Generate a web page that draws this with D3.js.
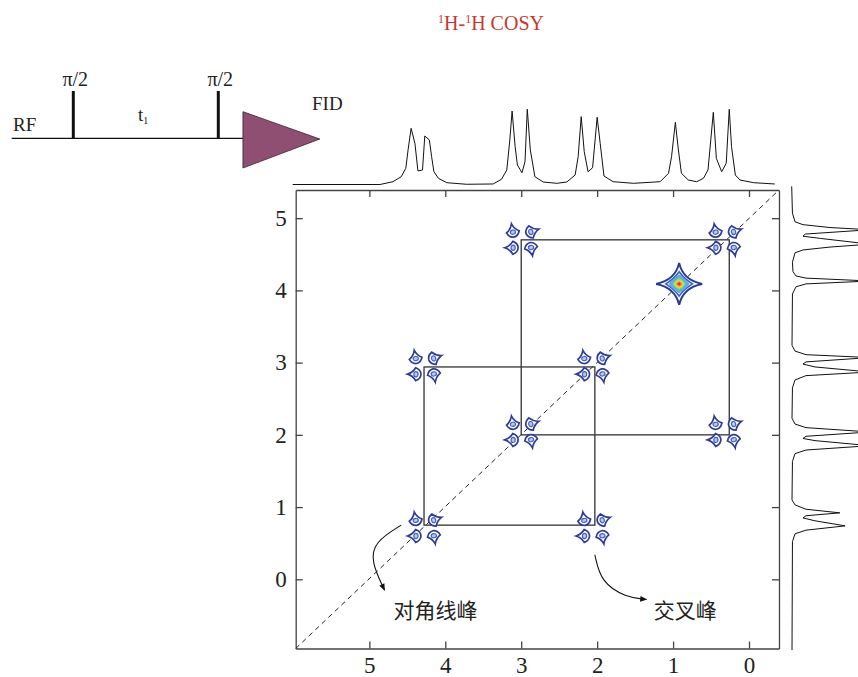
<!DOCTYPE html>
<html>
<head>
<meta charset="utf-8">
<script src="https://cdn.jsdelivr.net/npm/d3@7"></script>
<style>
body { margin: 0; background: #fff; }
svg text { font-family: "Liberation Serif", "Times New Roman", serif; fill: #222; }
</style>
</head>
<body>
<svg id="chart" width="858" height="677"></svg>
<script>
// axis ticks (ppm)
var xTicks = [5, 4, 3, 2, 1, 0];
var yTicks = [0, 1, 2, 3, 4, 5];

// centres of the 2x2 multiplet peaks (ppm)
var peakX = [2.99, 0.32, 4.27, 2.05, 2.99, 0.32, 4.27, 2.05];
var peakY = [4.70, 4.70, 2.95, 2.95, 2.04, 2.04, 0.71, 0.71];
var splitX = 0.12, splitY = 0.11;
var diagPeak = [0.92, 4.09];

// connecting boxes [x1, x2, y1, y2] (ppm)
var boxes = [[3.0, 0.26, 2.0, 4.7], [4.28, 2.03, 0.75, 2.94]];

// 1D spectrum on top: [ppm, intensity %]
var topTrace = [[6.01,0],[4.86,0],[4.69,3.7],[4.58,10.4],[4.52,21.5],[4.49,45.9],[4.45,74.7],[4.40,54.8],
  [4.36,18],[4.30,19.3],[4.27,64.5],[4.21,59.2],[4.18,37],[4.15,17],[4.09,8.2],[3.98,2.4],[3.72,0.3],
  [3.37,0.7],[3.26,6.9],[3.19,19.3],[3.15,59.2],[3.12,97.7],[3.08,50.3],[3.05,25.9],[2.99,15.7],[2.95,30.3],
  [2.92,100],[2.88,45.9],[2.82,10.4],[2.71,3.3],[2.53,1.6],[2.40,3.3],[2.29,12.6],[2.25,37],[2.21,90.2],
  [2.17,43.6],[2.12,17],[2.06,22.3],[2.00,89.4],[1.96,54.8],[1.91,11.3],[1.79,3.7],[1.52,1.6],[1.17,3.7],
  [1.06,14.9],[1.02,37],[0.97,82.7],[0.93,45.9],[0.89,14.9],[0.80,6],[0.69,3.7],[0.60,8.2],[0.54,19.3],
  [0.47,96],[0.43,34.8],[0.36,17],[0.30,28.2],[0.26,100],[0.23,50.3],[0.18,12.6],[0.12,6],[-0.06,2.4],[-0.34,0.7]];

// 1D spectrum on the right: [ppm, intensity %]
var rightTrace = [[5.44,0],[5.07,1],[4.95,4.4],[4.91,15],[4.87,51],[4.84,104],[4.78,18],[4.75,15],[4.72,38],
  [4.64,104],[4.60,51],[4.56,15],[4.52,4.4],[4.39,1],[4.26,1.7],[4.20,5.7],[4.17,19],[4.13,104],[4.09,19],
  [4.05,5.7],[3.95,1],[3.24,0.4],[3.16,4.4],[3.11,19],[3.07,104],[3.01,19],[2.98,15],[2.94,31],[2.87,104],
  [2.82,19],[2.76,4.4],[2.65,1],[2.23,0.4],[2.15,4.4],[2.10,19],[2.04,104],[1.98,19],[1.95,15],[1.92,31],
  [1.85,104],[1.79,19],[1.74,4.4],[1.63,1],[1.10,0.4],[1.03,4.4],[0.97,19],[0.92,64],[0.88,19],[0.85,15],
  [0.81,31],[0.74,71],[0.68,19],[0.63,4.4],[0.52,1],[-0.98,0.4]];

// annotation arrows (ppm) and labels
var arrowDiag = [[4.58,0.75],[4.93,0.52],[4.98,0.25],[4.80,-0.15]];
var arrowCross = [[2.03,0.34],[1.95,-0.04],[1.62,-0.25],[1.35,-0.28]];
var labels = [{text: "对角线峰", x: 4.13, y: -0.54}, {text: "交叉峰", x: 0.84, y: -0.54}];

var svg = d3.select("#chart");

var x = d3.scaleLinear().domain([5.97, -0.395]).range([295.7, 779]);
var y = d3.scaleLinear().domain([-0.958, 5.39]).range([648.5, 190]);
var topI = d3.scaleLinear().domain([0, 100]).range([184.5, 109.3]);
var rightI = d3.scaleLinear().domain([0, 100]).range([791.7, 866.9]);

// title
svg.append("text").attr("x", 491).attr("y", 30).attr("text-anchor", "middle")
  .style("font-size", "20px").style("fill", "#c8372d")
  .html('<tspan baseline-shift="super" font-size="12px">1</tspan>H-<tspan baseline-shift="super" font-size="12px">1</tspan>H COSY');

// pulse sequence
var seq = d3.scaleLinear().domain([0, 1]).range([73.3, 218.3]);
var rfY = 138.3;
svg.append("line").attr("x1", seq(-0.425)).attr("x2", seq(1.18)).attr("y1", rfY).attr("y2", rfY)
  .attr("stroke", "#111").attr("stroke-width", 1.3);
[0, 1].forEach(function (t) {
  svg.append("line").attr("x1", seq(t)).attr("x2", seq(t)).attr("y1", rfY).attr("y2", 91)
    .attr("stroke", "#111").attr("stroke-width", 3);
  svg.append("text").attr("x", seq(t) + 2).attr("y", 86).attr("text-anchor", "middle")
    .style("font-size", "20px").text("π/2");
});
svg.append("path")
  .attr("d", "M" + seq(1.17) + "," + 111.7 + "L" + seq(1.17) + "," + 168 + "L" + seq(1.7) + "," + 139 + "Z")
  .attr("fill", "#8e4f73").attr("stroke", "#3a2030").attr("stroke-width", 0.8);
svg.append("text").attr("x", 13).attr("y", 131).style("font-size", "19px").text("RF");
svg.append("text").attr("x", 138).attr("y", 121).style("font-size", "19px")
  .html('t<tspan font-size="10px" dy="3">1</tspan>');
svg.append("text").attr("x", 312).attr("y", 110).style("font-size", "19px").text("FID");

// 1D traces
svg.append("path").datum(topTrace)
  .attr("d", d3.line().x(function (d) { return x(d[0]); }).y(function (d) { return topI(d[1]); }))
  .attr("fill", "none").attr("stroke", "#111").attr("stroke-width", 1);
svg.append("path").datum(rightTrace)
  .attr("d", d3.line().y(function (d) { return y(d[0]); }).x(function (d) { return rightI(d[1]); }))
  .attr("fill", "none").attr("stroke", "#111").attr("stroke-width", 1);

// axes (ticks inward, box)
function styleAxis(g) {
  g.selectAll("path, line").attr("stroke", "#444").attr("stroke-width", 1.3);
  g.selectAll("text").style("font-size", "23px").style("font-family", "Liberation Serif").attr("fill", "#222");
}
svg.append("g").attr("transform", "translate(0," + y.range()[0] + ")")
  .call(d3.axisBottom(x).tickValues(xTicks).tickSize(-7).tickSizeOuter(0).tickPadding(8).tickFormat(d3.format("d")))
  .call(styleAxis);
svg.append("g").attr("transform", "translate(" + x.range()[0] + ",0)")
  .call(d3.axisLeft(y).tickValues(yTicks).tickSize(-7).tickSizeOuter(0).tickPadding(9).tickFormat(d3.format("d")))
  .call(styleAxis);
svg.append("g").attr("transform", "translate(0," + y.range()[1] + ")")
  .call(d3.axisTop(x).tickValues(xTicks).tickSize(-7).tickSizeOuter(0).tickFormat(""))
  .call(styleAxis);
svg.append("g").attr("transform", "translate(" + x.range()[1] + ",0)")
  .call(d3.axisRight(y).tickValues(yTicks).tickSize(-7).tickSizeOuter(0).tickFormat(""))
  .call(styleAxis);

// diagonal
svg.append("line")
  .attr("x1", x(x.domain()[0])).attr("y1", y(y.domain()[0]))
  .attr("x2", x(x.domain()[1])).attr("y2", y(y.domain()[1]))
  .attr("stroke", "#222").attr("stroke-width", 1).attr("stroke-dasharray", "5,4");

// boxes
svg.selectAll(".box").data(boxes).enter().append("rect").attr("class", "box")
  .attr("x", function (d) { return x(d[0]); })
  .attr("y", function (d) { return y(d[3]); })
  .attr("width", function (d) { return x(d[1]) - x(d[0]); })
  .attr("height", function (d) { return y(d[2]) - y(d[3]); })
  .attr("fill", "none").attr("stroke", "#333").attr("stroke-width", 1.3);

// multiplet contour glyphs
var r = 5.6;
var kite = "M0," + (-1.45 * r) +
  "Q" + (0.3 * r) + "," + (-0.5 * r) + " " + (1.15 * r) + ",0" +
  "Q" + (0.8 * r) + "," + (0.9 * r) + " 0," + (0.95 * r) +
  "Q" + (-0.8 * r) + "," + (0.9 * r) + " " + (-1.15 * r) + ",0" +
  "Q" + (-0.3 * r) + "," + (-0.5 * r) + " 0," + (-1.45 * r) + "Z";
var glyphs = [];
peakX.forEach(function (px, i) {
  [[-1, 1, -10], [1, 1, 70], [-1, -1, -90], [1, -1, 170]].forEach(function (s) {
    glyphs.push({x: px + s[0] * -splitX, y: peakY[i] + s[1] * splitY, rot: s[2]});
  });
});
var gl = svg.selectAll(".glyph").data(glyphs).enter().append("g").attr("class", "glyph")
  .attr("transform", function (d) { return "translate(" + x(d.x) + "," + y(d.y) + ") rotate(" + d.rot + ")"; });
gl.append("path").attr("d", kite).attr("fill", "#fff").attr("stroke", "#2e3c95").attr("stroke-width", 1.7);
gl.append("ellipse").attr("rx", 2.6).attr("ry", 2.1).attr("cy", 0.05 * r)
  .attr("fill", "#b4cbef").attr("stroke", "#3f63c2").attr("stroke-width", 1.2);

// diagonal peak (nested contours)
function star(ax, ay, k) {
  return "M0," + (-ay) + "Q" + k + "," + (-k) + " " + ax + ",0" +
    "Q" + k + "," + k + " 0," + ay + "Q" + (-k) + "," + k + " " + (-ax) + ",0" +
    "Q" + (-k) + "," + (-k) + " 0," + (-ay) + "Z";
}
var levels = [
  {s: 1.0, k: 0.17, fill: "#fff", stroke: "#2c3b92", w: 2},
  {s: 0.58, k: 0.4, fill: "#fff", stroke: "#3b5fc0", w: 1.6},
  {s: 0.46, k: 0.6, fill: "#62a6e8", stroke: "none", w: 0},
  {s: 0.36, k: 0.62, fill: "#3ec3dc", stroke: "none", w: 0},
  {s: 0.28, k: 0.65, fill: "#a7d65a", stroke: "none", w: 0},
  {s: 0.21, k: 0.65, fill: "#f5d23a", stroke: "none", w: 0},
  {s: 0.14, k: 0.65, fill: "#f0862c", stroke: "none", w: 0},
  {s: 0.07, k: 0.65, fill: "#d4322a", stroke: "none", w: 0}
];
var dp = svg.append("g").attr("transform", "translate(" + x(diagPeak[0]) + "," + y(diagPeak[1]) + ")");
dp.selectAll("path").data(levels).enter().append("path")
  .attr("d", function (d) { return star(23 * d.s, 21 * d.s, 22 * d.s * d.k); })
  .attr("fill", function (d) { return d.fill; })
  .attr("stroke", function (d) { return d.stroke; })
  .attr("stroke-width", function (d) { return d.w; });

// arrows
svg.append("defs").append("marker").attr("id", "ah").attr("viewBox", "0 0 10 10")
  .attr("refX", 9).attr("refY", 5).attr("markerWidth", 11).attr("markerHeight", 7)
  .attr("markerUnits", "userSpaceOnUse").attr("orient", "auto")
  .append("path").attr("d", "M0,1L10,5L0,9Z").attr("fill", "#111");
var curve = d3.line().x(function (d) { return x(d[0]); }).y(function (d) { return y(d[1]); }).curve(d3.curveBasis);
[arrowDiag, arrowCross].forEach(function (a) {
  svg.append("path").datum(a).attr("d", curve).attr("fill", "none")
    .attr("stroke", "#111").attr("stroke-width", 1.1).attr("marker-end", "url(#ah)");
});
svg.selectAll(".lab").data(labels).enter().append("text").attr("class", "lab")
  .attr("x", function (d) { return x(d.x); }).attr("y", function (d) { return y(d.y); })
  .attr("text-anchor", "middle")
  .style("font-family", "'Noto Sans CJK SC'").style("font-size", "21px")
  .text(function (d) { return d.text; });
</script>
</body>
</html>
